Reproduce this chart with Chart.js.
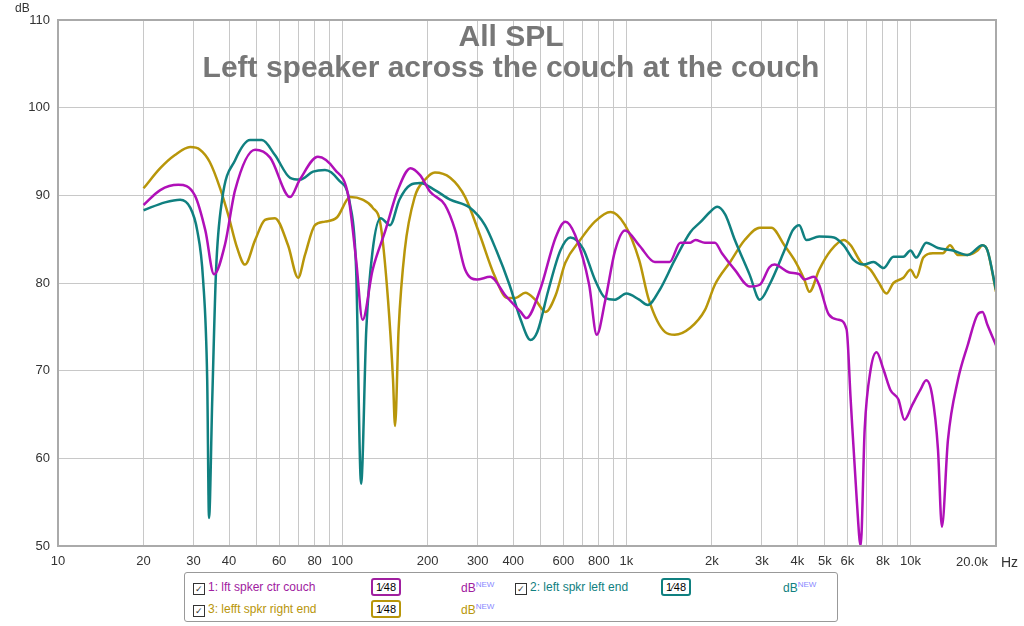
<!DOCTYPE html>
<html><head><meta charset="utf-8">
<script src="https://cdn.jsdelivr.net/npm/chart.js@4"></script>
<style>
body{margin:0;background:#fff;font-family:"Liberation Sans",Arial,sans-serif;}
#wrap{position:relative;width:1024px;height:626px;}
#legend{position:absolute;left:184px;top:572px;width:652px;height:48px;border:1px solid #999;border-radius:3px;background:#fff;font-size:12px;}
.it{position:absolute;white-space:nowrap;}
.cb{display:inline-block;width:10px;height:10px;border:1px solid #333;font-size:9px;line-height:10px;text-align:center;vertical-align:-1px;margin-right:3px;color:#333}
.sm{position:absolute;width:26px;height:14px;border:2px solid;border-radius:3px;font-size:11px;color:#000;text-align:center;line-height:14px;background:#fff}
sup{font-size:8px}
</style></head><body>
<div id="wrap"><canvas id="c" width="1024" height="626"></canvas>
<div id="legend">
<div class="it" style="left:8px;top:7px;color:#a020a0"><span class="cb">✓</span>1: lft spker ctr couch</div>
<div class="sm" style="left:186px;top:5px;border-color:#a020a0">1⁄48</div>
<div class="it" style="left:276px;top:7px;color:#a020a0">dB<sup style="color:#88f">NEW</sup></div>
<div class="it" style="left:330px;top:7px;color:#108080"><span class="cb">✓</span>2: left spkr left end</div>
<div class="sm" style="left:476px;top:5px;border-color:#108080">1⁄48</div>
<div class="it" style="left:598px;top:7px;color:#108080">dB<sup style="color:#88f">NEW</sup></div>
<div class="it" style="left:8px;top:29px;color:#b8960a"><span class="cb">✓</span>3: lefft spkr right end</div>
<div class="sm" style="left:186px;top:27px;border-color:#b8960a">1⁄48</div>
<div class="it" style="left:276px;top:29px;color:#b8960a">dB<sup style="color:#88f">NEW</sup></div>
</div></div>
<script>
const freq1=[20,22.9,26.5,30.3,33,35.4,38.7,42,49.4,55.8,65.6,71,82.2,94.5,105,112,118,128,142,157,174,188,204,230,250,271,298,332,375,425,445,497,564,610,660,740,787,843,913,990,1110,1260,1420,1550,1680,1750,1890,2050,2170,2410,2720,2950,3190,3320,3750,4060,4230,4580,4770,5160,5590,5960,6160,6470,6680,6900,7240,7600,8040,8500,9070,9520,10150,10830,11360,11920,12500,12900,13550,14680,15900,17220,17930,18670,20000];
const db1=[88.9,90.6,91.2,90,86,81,84.4,90.6,95.2,94.3,89.8,91.8,94.4,92.9,90,82.6,75.8,81.5,86,90.6,93.1,92.3,90.4,88.9,86,81.5,80.4,80.7,78.6,76.7,76,79.2,85.2,87,85.5,79.8,74.1,78,83.7,86,84.3,82.4,82.4,84.6,84.6,84.9,84.6,84.6,83.4,81.5,79.6,79.8,81.8,82.1,81.2,81,80.4,80.7,79.8,76.4,75.8,74.7,66.7,55.3,50,63.3,70.1,72.1,70.1,67.8,66.7,64.4,66.1,67.8,68.9,67.2,61,52.2,62.1,68.9,72.9,76.4,76.7,75.2,72.9];
const freq2=[20,23.8,26.9,29.2,30.9,32.4,33.5,34,34.9,36,37.8,42,47.4,52.2,58,65.6,71,79,87,96.8,106.7,112,116.6,121.6,128,136.6,147.4,159,174,188,212,240,281,318,349,388,425,460,486,532,586,636,705,775,843,913,1000,1110,1190,1310,1480,1680,1830,1970,2090,2230,2410,2720,2950,3190,3600,3850,4060,4300,4770,5380,5820,6320,6840,7420,8040,8710,9440,10000,10480,11360,12500,14100,15900,17930,18670,20000];
const db2=[88.3,89.2,89.5,88.6,86,80.4,69,53.2,66.7,81.5,89.5,94,96.3,96.3,94.6,92,91.8,92.7,92.9,91.8,88.9,81.5,57.1,74.7,83.7,87.4,86.6,89.5,91.2,91.4,90.6,89.5,88.6,86.6,83.7,79.8,75.8,73.5,74.4,79.2,83.7,85.2,83.9,80.4,78.3,78.1,78.8,78.1,77.5,79.2,82.6,85.8,87,88.1,88.7,87.8,84.9,80.9,78.1,79.8,83.7,86,86.6,84.9,85.3,85.2,84.3,82.6,82.1,82.4,81.7,83,83,83.7,82.9,84.6,84,83.7,83.2,84.3,83.7,79.2];
const freq3=[20,22.9,25.8,29.2,31.6,34.2,37.2,39.7,42.7,45.5,49.4,53.5,58,64.5,70,74,80.2,87,96,106.7,118,128,136.6,145,151,153.5,158,166,180,196,212,240,271,305,343,381,408,441,478,520,564,610,688,775,880,990,1110,1200,1370,1480,1680,1890,2050,2320,2610,2950,3240,3600,3910,4230,4410,4770,5240,5820,6160,6680,7240,7720,8230,8710,9440,10000,10480,11100,12000,13000,13770,14680,15900,17220,17930,18670,20000];
const db3=[90.8,93.1,94.6,95.5,95.2,93.8,90.8,87.8,84,82.1,84.9,87.2,87.4,84.3,80.6,83.2,86.6,87,87.5,89.8,89.5,88.6,86.6,78.1,69,63.7,74.7,83.7,89.8,91.8,92.6,92,89.8,85.5,80.9,78.3,78.3,78.9,78.1,76.7,78.6,82.3,84.9,87,88.1,86.6,82.6,78.1,74.4,74.1,74.9,76.9,79.8,82.4,84.9,86.3,86.3,84.3,82.6,80.4,79,81.5,83.7,84.9,84.3,82.4,81.5,80.1,78.8,80,80.6,81.5,80.6,82.9,83.4,83.4,84.3,83.2,83.2,83.7,84.3,83.7,79];
const yTicks=[50,60,70,80,90,100,110];
const xLabels={10:'10',20:'20',30:'30',40:'40',60:'60',80:'80',100:'100',200:'200',300:'300',400:'400',600:'600',800:'800',1000:'1k',2000:'2k',3000:'3k',4000:'4k',5000:'5k',6000:'6k',8000:'8k',10000:'10k'};
const pts=(f,d)=>f.map((x,i)=>({x,y:d[i]}));
const gridVals=[];[10,100,1000,10000].forEach(d=>{for(let k=1;k<=9;k++){if(d*k<=20000)gridVals.push(d*k);}});gridVals.push(20000);
const deco={id:'deco',beforeDraw(c){const x=c.ctx,a=c.chartArea;x.save();x.fillStyle='#fff';x.fillRect(a.left,a.top,a.width,a.height);x.restore();},
afterDraw(c){const x=c.ctx,a=c.chartArea;x.save();x.strokeStyle='#aaa';x.lineWidth=2;x.strokeRect(a.left,a.top,a.width,a.height);
x.fillStyle='#777';x.font='bold 30px "Liberation Sans",Arial';x.textAlign='center';x.textBaseline='middle';
x.fillText('All SPL',511,38);x.fillText('Left speaker across the couch at the couch',511,69);
x.fillStyle='#333';x.font='12px "Liberation Sans",Arial';x.textAlign='left';x.fillText('dB',15,9);
x.font='13px "Liberation Sans",Arial';x.textAlign='center';x.fillText('20.0k',972,562);
x.textAlign='left';x.font='14px "Liberation Sans",Arial';x.fillText('Hz',1001,563);x.restore();}};
const ds=(l,d,c)=>({label:l,data:d,borderColor:c,borderWidth:2.5,pointRadius:0,fill:false,cubicInterpolationMode:'monotone'});
new Chart(document.getElementById('c'),{type:'line',
data:{datasets:[ds('1: lft spker ctr couch',pts(freq1,db1),'#b010b8'),ds('2: left spkr left end',pts(freq2,db2),'#108080'),ds('3: lefft spkr right end',pts(freq3,db3),'#b8960a')]},
options:{responsive:false,animation:false,layout:{padding:{top:20,right:28}},
plugins:{legend:{display:false},tooltip:{enabled:false}},
scales:{x:{type:'logarithmic',min:10,max:20000,afterFit(s){s.height=80;},
afterBuildTicks(s){s.ticks=gridVals.map(v=>({value:v}));},
grid:{color:'#c8c8c8',drawTicks:false},border:{display:false},
ticks:{autoSkip:false,maxRotation:0,padding:8,color:'#333',font:{size:13,family:'"Liberation Sans",Arial'},callback:v=>xLabels[v]||''}},
y:{min:50,max:110,afterFit(s){s.width=58;},afterBuildTicks(s){s.ticks=yTicks.map(v=>({value:v}));},
grid:{color:'#c8c8c8',drawTicks:false},border:{display:false},
ticks:{padding:8,color:'#333',font:{size:13,family:'"Liberation Sans",Arial'}}}}},
plugins:[deco]});
</script></body></html>
